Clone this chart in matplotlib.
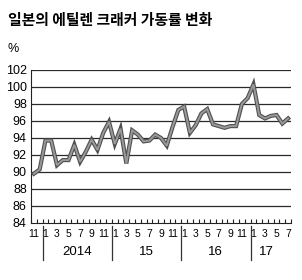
import numpy as np
import matplotlib
matplotlib.use('Agg')
import matplotlib.pyplot as plt
import matplotlib.patheffects as pe

# 월별 가동률 (2013년 11월 ~ 2017년 7월)
rates = [89.8, 90.3, 93.7, 93.7, 90.8, 91.4, 91.4, 93.2, 91.2, 92.4,
         93.8, 92.6, 94.6, 95.9, 93.3, 95.1, 91.0, 94.9, 94.4, 93.6,
         93.7, 94.4, 94.0, 93.1, 95.3, 97.3, 97.7, 94.6, 95.5, 96.9,
         97.4, 95.6, 95.4, 95.2, 95.4, 95.4, 98.0, 98.7, 100.3, 96.7,
         96.3, 96.6, 96.7, 95.7, 96.3]
months = [11, 12] + list(range(1, 13)) * 3 + list(range(1, 8))
years = ['2014', '15', '16', '17']
year_pos = [7.4, 19.4, 31.4, 40.2]
year_breaks = [1.5, 13.5, 25.5, 37.5]
y_ticks = list(range(84, 103, 2))

num_font = ['Liberation Sans Narrow', 'Liberation Sans', 'DejaVu Sans']
kr_font = ['Noto Sans CJK KR', 'DejaVu Sans']

fig = plt.figure(figsize=(3.02, 2.80), dpi=100)
ax = fig.add_axes([31 / 302, 1 - 223 / 280, 260 / 302, 153 / 280])

x = np.arange(len(rates))
ax.plot(x, rates, color='#9a9a9a', lw=1.4, solid_joinstyle='miter', zorder=5,
        path_effects=[pe.Stroke(linewidth=3.0, foreground='#505050'), pe.Normal()])

for v in y_ticks[1:]:
    ax.axhline(v, color='#2a2a2a', lw=0.9, zorder=1)

ax.set_xlim(-0.5, len(rates) - 0.5)
ax.set_ylim(84, 102)
for s in ['top', 'right']:
    ax.spines[s].set_visible(False)
ax.spines['left'].set_color('#222')
ax.spines['bottom'].set_color('#222')

ax.set_yticks(y_ticks)
ax.set_yticklabels([str(v) for v in y_ticks], family=num_font, fontsize=9)
ax.tick_params(axis='y', length=0, pad=3)

lab_idx = [i for i, m in enumerate(months) if m % 2 == 1]
ax.set_xticks(lab_idx)
ax.set_xticklabels([str(months[i]) for i in lab_idx], family=num_font, fontsize=7.5)
ax.tick_params(axis='x', which='major', length=0, pad=4)
ax.set_xticks(np.arange(-0.5, len(rates), 1), minor=True)
ax.tick_params(axis='x', which='minor', direction='in', length=3, width=0.8, color='#222')

tr = ax.get_xaxis_transform()
for b in year_breaks:
    ax.plot([b, b], [-0.02, -0.245], color='#333', lw=0.9, transform=tr, clip_on=False)
for lab, p in zip(years, year_pos):
    ax.text(p, -0.19, lab, transform=tr, ha='center', va='center',
            family=num_font, fontsize=9.5)

fig.text(8 / 302, 1 - 20 / 280, '일본의 에틸렌 크래커 가동률 변화', family=kr_font,
         fontsize=10.7, fontweight='bold', ha='left', va='center')
fig.text(8 / 302, 1 - 49 / 280, '%', family=num_font, fontsize=9,
         ha='left', va='center')

fig.savefig('out.png', dpi=100)
